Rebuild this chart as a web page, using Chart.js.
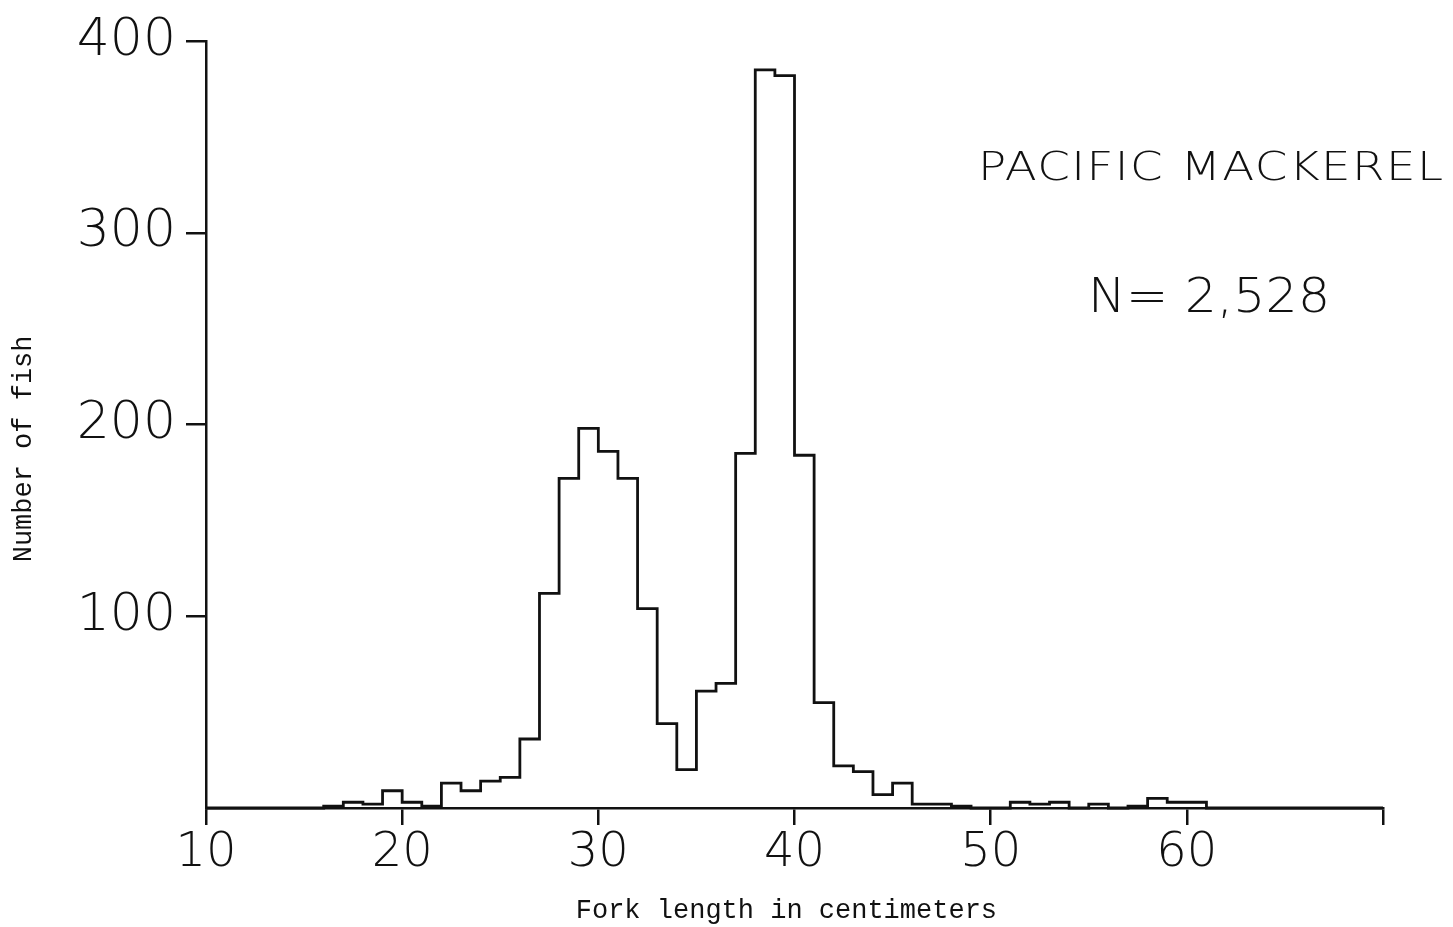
<!DOCTYPE html>
<html>
<head>
<meta charset="utf-8">
<script src="https://cdn.jsdelivr.net/npm/chart.js@4.4.1/dist/chart.umd.min.js"></script>
<style>
  html, body { margin: 0; padding: 0; background: #ffffff; }
  #wrap { width: 1453px; height: 927px; }
</style>
</head>
<body>
<div id="wrap"><canvas id="c" width="1453" height="927"></canvas></div>
<script>
// ---- data ----
const binStarts = [10,11,12,13,14,15,16,17,18,19,20,21,22,23,24,25,26,27,28,29,
                   30,31,32,33,34,35,36,37,38,39,40,41,42,43,44,45,46,47,48,49,
                   50,51,52,53,54,55,56,57,58,59,60,61,62,63,64,65,66,67,68,69];
const fishCounts = [0,0,0,0,0,0,1,3,2,9,3,1,13,9,14,16,36,112,172,198,
                    186,172,104,44,20,61,65,185,385,382,184,55,22,19,7,13,2,2,1,0,
                    0,3,2,3,0,2,0,1,5,3,3,0,0,0,0,0,0,0,0,0];
const lastBinEnd = 70;
const xTickValues = [10,20,30,40,50,60];
const yTickValues = [100,200,300,400];
const xAxisTitle = 'Fork length in centimeters';
const yAxisTitle = 'Number of fish';
const speciesLabel = 'PACIFIC MACKEREL';
const sampleLabel = 'N= 2,528';

// build step points (left edge of each bin + closing right edge)
const stepPoints = binStarts.map((x, i) => ({ x: x, y: fishCounts[i] }));
stepPoints.push({ x: lastBinEnd, y: 0 });

const INK = '#111111';
const THIN = '"DejaVu Sans", Lato, sans-serif';
const yTickFont = { family: THIN, size: 52, weight: 200 };
const xTickFont = { family: THIN, size: 48, weight: 200 };
const monoFont = { family: '"Liberation Mono", "DejaVu Sans Mono", monospace', size: 27 };

// draws lettering widened to a target width (hand-lettered look)
function drawSpaced(ctx, text, x, y, size, targetWidth, stretch) {
  ctx.save();
  ctx.font = '200 ' + size + 'px ' + THIN;
  ctx.letterSpacing = '0px';
  const natural = ctx.measureText(text).width;
  const s = Math.min(stretch, targetWidth / natural);
  const ls = Math.max(0, (targetWidth - natural * s) / (text.length - 1)) / s;
  ctx.letterSpacing = ls + 'px';
  ctx.translate(x, y);
  ctx.scale(s, 1);
  ctx.fillText(text, 0, 0);
  ctx.restore();
}

const annotations = {
  id: 'annotations',
  afterDraw(chart) {
    const ctx = chart.ctx;
    ctx.save();
    ctx.fillStyle = INK;
    ctx.textAlign = 'left';
    ctx.textBaseline = 'alphabetic';
    drawSpaced(ctx, speciesLabel, 978, 180, 39, 465, 1.2);
    drawSpaced(ctx, sampleLabel, 1088, 312, 48, 242, 1.05);
    ctx.restore();
  }
};

new Chart(document.getElementById('c'), {
  type: 'line',
  data: {
    datasets: [{
      data: stepPoints,
      stepped: true,
      borderColor: INK,
      borderWidth: 2.8,
      borderJoinStyle: 'miter',
      pointRadius: 0,
      fill: false,
      clip: 6
    }]
  },
  options: {
    responsive: false,
    animation: false,
    devicePixelRatio: 1,
    layout: { padding: { top: 41, right: 70, left: 0, bottom: 0 } },
    plugins: {
      legend: { display: false },
      tooltip: { enabled: false }
    },
    scales: {
      x: {
        type: 'linear',
        min: 10,
        max: lastBinEnd,
        afterFit(scale) { scale.height = 119; },
        afterBuildTicks(scale) {
          scale.ticks = xTickValues.concat([lastBinEnd]).map(v => ({ value: v }));
        },
        ticks: {
          autoSkip: false,
          maxRotation: 0,
          color: INK,
          font: xTickFont,
          padding: 0,
          callback: (v) => xTickValues.includes(v) ? String(v) : ''
        },
        grid: {
          display: true,
          drawOnChartArea: false,
          drawTicks: true,
          tickLength: 17,
          color: INK,
          lineWidth: 2.5
        },
        border: { display: true, color: INK, width: 2.5 },
        title: {
          display: true,
          text: xAxisTitle + ' ',
          color: INK,
          font: monoFont,
          padding: { top: 0, bottom: 0 }
        }
      },
      y: {
        type: 'linear',
        min: 0,
        max: 400,
        afterFit(scale) { scale.width = 206; },
        afterBuildTicks(scale) {
          scale.ticks = [0].concat(yTickValues).map(v => ({ value: v }));
        },
        ticks: {
          color: INK,
          font: yTickFont,
          padding: 10,
          callback: (v) => yTickValues.includes(v) ? String(v) : ''
        },
        grid: {
          display: true,
          drawOnChartArea: false,
          drawTicks: true,
          tickLength: 20,
          color: (ctx) => (ctx.tick && ctx.tick.value === 0) ? 'rgba(0,0,0,0)' : INK,
          lineWidth: 2.5
        },
        border: { display: true, color: INK, width: 2.5 },
        title: {
          display: true,
          text: yAxisTitle + '   ',
          color: INK,
          font: monoFont,
          padding: { top: 8, bottom: 0 }
        }
      }
    }
  },
  plugins: [annotations]
});
</script>
</body>
</html>
